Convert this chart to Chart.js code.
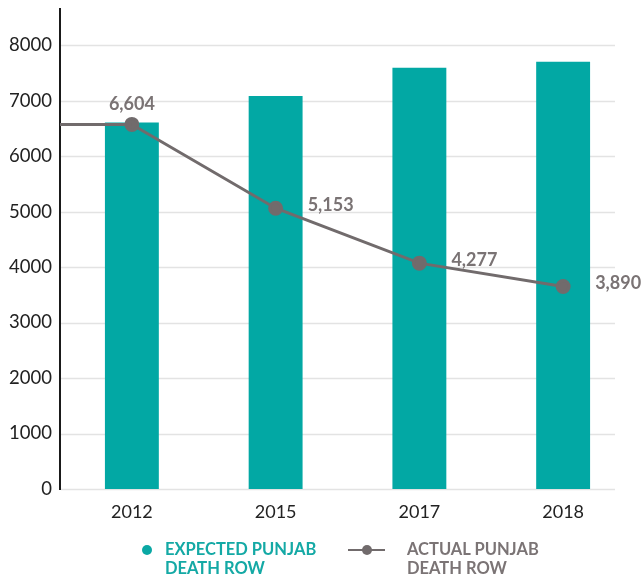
<!DOCTYPE html>
<html>
<head>
<meta charset="utf-8">
<script src="https://cdn.jsdelivr.net/npm/chart.js@4"></script>
<style>
  body { margin: 0; background: #fff; }
  #wrap { position: relative; width: 644px; height: 575px; }
  .leg { position: absolute; font-family: Lato, sans-serif; font-weight: bold; font-size: 16.5px; line-height: 19px; }
  .dot { position: absolute; border-radius: 50%; }
</style>
</head>
<body>
<div id="wrap">
  <canvas id="chart"></canvas>
  <div class="dot" style="left:142px; top:545px; width:10px; height:10px; background:#0aa8a4;"></div>
  <div class="leg" style="left:165px; top:540px; color:#14a9a5;">EXPECTED PUNJAB<br>DEATH ROW</div>
  <div style="position:absolute; left:348px; top:549px; width:37px; height:2px; background:#716b6c;"></div>
  <div class="dot" style="left:362px; top:545px; width:10px; height:10px; background:#716b6c;"></div>
  <div class="leg" style="left:407px; top:540px; color:#7b7475;">ACTUAL PUNJAB<br>DEATH ROW</div>
</div>
<script>
// Categories and values
const years = ['2012', '2015', '2017', '2018'];
const expectedRow = [6604, 7080, 7590, 7700];     // bars
const actualRow = [6570, 5060, 4070, 3650];       // line, as plotted
const actualLabels = ['6,604', '5,153', '4,277', '3,890'];
const yTicks = [0, 1000, 2000, 3000, 4000, 5000, 6000, 7000, 8000];

const teal = '#02a8a4';
const grey = '#716b6c';

// light gridlines that stop a bit short of the right edge
const gridPlugin = {
    id: 'softGrid',
    beforeDatasetsDraw(chart) {
        const { ctx, chartArea, scales } = chart;
        ctx.save();
        ctx.strokeStyle = '#e3e3e3';
        ctx.lineWidth = 1.5;
        yTicks.forEach(v => {
            const y = Math.round(scales.y.getPixelForValue(v)) + 0.5;
            ctx.beginPath();
            ctx.moveTo(chartArea.left + 1, y);
            ctx.lineTo(chartArea.right - 20, y);
            ctx.stroke();
        });
        ctx.restore();
    }
};

// horizontal lead-in from the axis + value labels
const lineExtras = {
    id: 'lineExtras',
    afterDatasetsDraw(chart) {
        const { ctx, chartArea } = chart;
        const pts = chart.getDatasetMeta(1).data;
        ctx.save();
        ctx.strokeStyle = grey;
        ctx.lineWidth = 3;
        ctx.beginPath();
        ctx.moveTo(chartArea.left, pts[0].y);
        ctx.lineTo(pts[0].x, pts[0].y);
        ctx.stroke();

        ctx.fillStyle = '#7a7374';
        ctx.font = 'bold 18px Lato, sans-serif';
        ctx.textBaseline = 'middle';
        pts.forEach((p, i) => {
            if (i === 0) {
                ctx.textAlign = 'center';
                ctx.fillText(actualLabels[i], p.x, p.y - 20);
            } else {
                ctx.textAlign = 'left';
                ctx.fillText(actualLabels[i], p.x + 32, p.y - 3);
            }
        });
        ctx.restore();
    }
};

new Chart(document.getElementById('chart').getContext('2d'), {
    type: 'bar',
    data: {
        labels: years,
        datasets: [
            {
                label: 'EXPECTED PUNJAB DEATH ROW',
                data: expectedRow,
                backgroundColor: teal,
                categoryPercentage: 1,
                barPercentage: 0.375,
                order: 1
            },
            {
                type: 'line',
                label: 'ACTUAL PUNJAB DEATH ROW',
                data: actualRow,
                borderColor: grey,
                backgroundColor: grey,
                borderWidth: 3,
                pointRadius: 6,
                pointHoverRadius: 6,
                tension: 0,
                order: 0
            }
        ]
    },
    options: {
        responsive: true,
        maintainAspectRatio: false,
        animation: false,
        layout: { padding: { top: 8, right: 5, left: 0, bottom: 0 } },
        plugins: {
            legend: { display: false },
            tooltip: { enabled: false }
        },
        scales: {
            x: {
                grid: { display: false, drawTicks: false },
                border: { display: false },
                ticks: {
                    color: '#222',
                    padding: 12,
                    font: { family: 'Lato', size: 18 }
                },
                afterFit(scale) { scale.height = 86; }
            },
            y: {
                min: 0,
                max: 8650,
                grid: { display: false, drawTicks: false },
                border: { display: true, color: '#1a1a1a', width: 2 },
                ticks: {
                    color: '#222',
                    padding: 8,
                    font: { family: 'Lato', size: 18.5 },
                    callback: v => String(v)
                },
                afterBuildTicks(scale) {
                    scale.ticks = yTicks.map(v => ({ value: v }));
                },
                afterFit(scale) {
                    scale.width = 60;
                    scale.paddingTop = 0;
                    scale.paddingBottom = 0;
                }
            }
        }
    },
    plugins: [gridPlugin, lineExtras]
});
</script>
</body>
</html>
